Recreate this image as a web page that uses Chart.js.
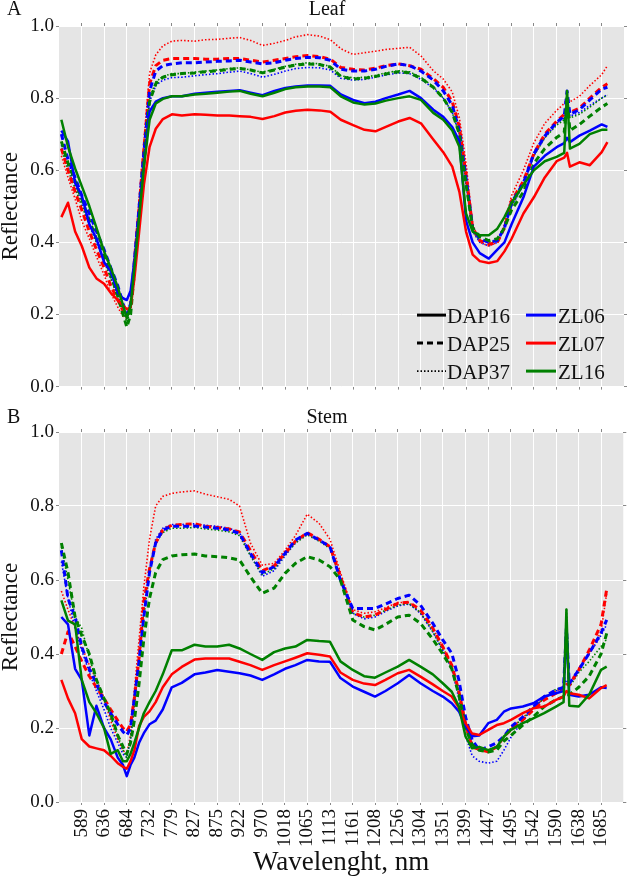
<!DOCTYPE html>
<html>
<head>
<meta charset="utf-8">
<script src="https://cdn.jsdelivr.net/npm/chart.js@4.4.1/dist/chart.umd.min.js"></script>
<style>
html,body{margin:0;padding:0;background:#ffffff;}
#wrap{position:relative;width:628px;height:877px;overflow:hidden;}
.panel{position:absolute;left:0;width:628px;}
</style>
</head>
<body>
<div id="wrap">
  <div class="panel" style="top:0;height:400px"><canvas id="leaf" width="628" height="400"></canvas></div>
  <div class="panel" style="top:400px;height:477px"><canvas id="stem" width="628" height="477"></canvas></div>
</div>
<script>
// ---------------- DATA ----------------
const wavelengths = [546,560,575,589,605,620,636,650,665,676,684,692,700,710,720,732,745,760,779,800,827,850,875,900,922,945,970,995,1018,1040,1065,1090,1113,1135,1161,1185,1208,1230,1256,1280,1304,1330,1351,1370,1385,1399,1413,1428,1447,1465,1480,1495,1520,1542,1565,1590,1606,1612,1618,1638,1660,1685,1697];
const xTickLabels = [589,636,684,732,779,827,875,922,970,1018,1065,1113,1161,1208,1256,1304,1351,1399,1447,1495,1542,1590,1638,1685];
const yTickLabels = [0.0,0.2,0.4,0.6,0.8,1.0];
const genotypes = ['ZL06','ZL07','ZL16'];
const stages = ['DAP16','DAP25','DAP37'];

// Leaf
const leafZL06_DAP16 = [0.71,0.68,0.565,0.53,0.45,0.41,0.345,0.32,0.26,0.245, 0.24,0.266,0.348,0.474,0.619,0.763,0.79,0.80,0.805,0.805, 0.812,0.815,0.818,0.82,0.822,0.815,0.808,0.82,0.828,0.832, 0.835,0.835,0.834,0.81,0.795,0.786,0.79,0.80,0.81,0.82, 0.80,0.768,0.748,0.72,0.68,0.46,0.40,0.37,0.355,0.38, 0.40,0.45,0.525,0.61,0.64,0.664,0.675,0.69,0.678,0.696, 0.71,0.727,0.72];
const leafZL07_DAP16 = [0.47,0.51,0.43,0.39,0.33,0.30,0.285,0.26,0.24,0.225, 0.215,0.22,0.30,0.43,0.56,0.665,0.715,0.742,0.755,0.752, 0.755,0.754,0.752,0.752,0.75,0.748,0.742,0.75,0.76,0.765, 0.768,0.766,0.762,0.74,0.725,0.712,0.708,0.72,0.735,0.745, 0.73,0.685,0.65,0.61,0.54,0.43,0.366,0.348,0.343,0.348, 0.375,0.41,0.48,0.525,0.58,0.625,0.635,0.648,0.61,0.622, 0.614,0.65,0.678];
const leafZL16_DAP16 = [0.74,0.665,0.605,0.556,0.50,0.44,0.375,0.33,0.275,0.225, 0.19,0.225,0.33,0.47,0.61,0.74,0.785,0.798,0.805,0.805, 0.81,0.812,0.815,0.818,0.82,0.812,0.805,0.815,0.825,0.83, 0.832,0.832,0.83,0.805,0.788,0.782,0.785,0.793,0.80,0.805, 0.795,0.759,0.74,0.71,0.665,0.48,0.43,0.42,0.42,0.438, 0.47,0.51,0.56,0.60,0.625,0.637,0.648,0.82,0.66,0.673, 0.70,0.712,0.712];
const leafZL06_DAP25 = [0.70,0.63,0.58,0.53,0.48,0.43,0.38,0.33,0.28,0.23, 0.20,0.23,0.35,0.50,0.65,0.82,0.875,0.89,0.895,0.898, 0.898,0.90,0.902,0.903,0.905,0.90,0.895,0.898,0.905,0.91, 0.913,0.912,0.905,0.88,0.875,0.875,0.88,0.888,0.895,0.89, 0.875,0.85,0.82,0.78,0.71,0.58,0.44,0.41,0.40,0.405, 0.44,0.51,0.565,0.646,0.695,0.733,0.75,0.82,0.755,0.768, 0.795,0.825,0.83];
const leafZL07_DAP25 = [0.66,0.60,0.54,0.49,0.43,0.38,0.33,0.28,0.24,0.21, 0.20,0.22,0.35,0.50,0.66,0.84,0.89,0.905,0.91,0.91, 0.91,0.908,0.908,0.91,0.91,0.905,0.90,0.905,0.91,0.915, 0.918,0.915,0.908,0.885,0.88,0.878,0.883,0.89,0.895,0.89, 0.88,0.854,0.83,0.79,0.72,0.59,0.44,0.405,0.395,0.40, 0.44,0.515,0.57,0.646,0.70,0.736,0.755,0.77,0.76,0.772, 0.80,0.83,0.84];
const leafZL16_DAP25 = [0.68,0.62,0.57,0.52,0.46,0.41,0.36,0.31,0.25,0.20, 0.165,0.20,0.32,0.47,0.62,0.79,0.84,0.858,0.865,0.868, 0.87,0.873,0.876,0.88,0.882,0.878,0.87,0.878,0.886,0.892, 0.895,0.893,0.886,0.86,0.853,0.855,0.86,0.867,0.873,0.87, 0.855,0.83,0.80,0.76,0.70,0.56,0.44,0.415,0.405,0.41, 0.44,0.49,0.54,0.619,0.66,0.691,0.705,0.80,0.71,0.727, 0.75,0.775,0.785];
const leafZL06_DAP37 = [0.67,0.61,0.56,0.51,0.45,0.40,0.35,0.30,0.25,0.21, 0.19,0.22,0.34,0.49,0.63,0.79,0.835,0.85,0.857,0.858, 0.862,0.865,0.868,0.872,0.875,0.868,0.858,0.866,0.875,0.882, 0.885,0.884,0.878,0.855,0.85,0.852,0.858,0.864,0.87,0.868, 0.852,0.828,0.80,0.76,0.70,0.56,0.43,0.40,0.39,0.40, 0.44,0.50,0.56,0.64,0.69,0.73,0.745,0.80,0.75,0.76, 0.78,0.80,0.81];
const leafZL07_DAP37 = [0.64,0.58,0.52,0.46,0.41,0.36,0.31,0.26,0.22,0.195, 0.19,0.22,0.36,0.52,0.68,0.87,0.92,0.945,0.958,0.96, 0.958,0.962,0.963,0.966,0.968,0.96,0.946,0.952,0.96,0.97, 0.976,0.972,0.962,0.937,0.921,0.926,0.93,0.935,0.938,0.941, 0.917,0.876,0.853,0.817,0.745,0.62,0.45,0.40,0.39,0.40, 0.45,0.53,0.60,0.676,0.73,0.766,0.785,0.80,0.79,0.805, 0.835,0.865,0.89];
const leafZL16_DAP37 = [0.66,0.60,0.55,0.50,0.45,0.40,0.35,0.30,0.25,0.21, 0.18,0.21,0.33,0.48,0.63,0.80,0.845,0.86,0.868,0.868, 0.872,0.875,0.878,0.882,0.884,0.878,0.872,0.88,0.888,0.894, 0.898,0.895,0.888,0.862,0.856,0.858,0.863,0.87,0.876,0.873, 0.858,0.832,0.80,0.76,0.70,0.56,0.43,0.405,0.40,0.405, 0.44,0.50,0.56,0.64,0.69,0.725,0.74,0.79,0.745,0.755, 0.775,0.80,0.808];

// Stem
const stemZL06_DAP16 = [0.50,0.48,0.36,0.33,0.18,0.26,0.20,0.17,0.12,0.10, 0.07,0.10,0.12,0.16,0.186,0.21,0.22,0.25,0.31,0.322, 0.345,0.35,0.357,0.352,0.348,0.342,0.33,0.345,0.36,0.37, 0.384,0.38,0.379,0.335,0.312,0.298,0.285,0.30,0.321,0.343, 0.321,0.30,0.285,0.267,0.245,0.205,0.178,0.18,0.213,0.222, 0.244,0.253,0.258,0.267,0.285,0.294,0.30,0.475,0.29,0.285, 0.29,0.31,0.308];
const stemZL07_DAP16 = [0.33,0.28,0.24,0.17,0.15,0.145,0.14,0.125,0.105,0.095, 0.09,0.11,0.14,0.205,0.23,0.245,0.27,0.31,0.345,0.365, 0.385,0.388,0.388,0.388,0.379,0.37,0.357,0.37,0.38,0.39, 0.402,0.398,0.393,0.35,0.33,0.32,0.316,0.33,0.348,0.357, 0.339,0.318,0.30,0.285,0.255,0.213,0.185,0.181,0.195,0.208, 0.213,0.222,0.24,0.253,0.258,0.276,0.285,0.30,0.294,0.29, 0.28,0.308,0.316];
const stemZL16_DAP16 = [0.545,0.49,0.48,0.33,0.27,0.24,0.20,0.13,0.14,0.11, 0.11,0.13,0.16,0.20,0.24,0.27,0.30,0.345,0.41,0.41, 0.425,0.42,0.42,0.425,0.415,0.40,0.384,0.405,0.415,0.42, 0.438,0.435,0.433,0.38,0.357,0.34,0.336,0.35,0.366,0.384, 0.366,0.345,0.321,0.298,0.258,0.177,0.145,0.149,0.14,0.149, 0.177,0.195,0.213,0.226,0.24,0.258,0.27,0.52,0.26,0.258, 0.29,0.357,0.366];
const stemZL06_DAP25 = [0.68,0.55,0.50,0.42,0.36,0.32,0.27,0.24,0.21,0.19, 0.18,0.20,0.28,0.38,0.50,0.62,0.70,0.735,0.745,0.745, 0.746,0.743,0.74,0.735,0.726,0.672,0.62,0.636,0.672,0.708, 0.726,0.708,0.69,0.60,0.523,0.523,0.523,0.535,0.55,0.559, 0.532,0.483,0.438,0.402,0.33,0.23,0.168,0.14,0.149,0.16, 0.177,0.203,0.23,0.258,0.285,0.303,0.31,0.47,0.32,0.357, 0.402,0.456,0.492];
const stemZL07_DAP25 = [0.40,0.46,0.42,0.38,0.34,0.31,0.28,0.25,0.22,0.20, 0.19,0.21,0.28,0.39,0.54,0.63,0.70,0.735,0.748,0.75, 0.752,0.745,0.742,0.738,0.73,0.68,0.625,0.638,0.672,0.705, 0.728,0.71,0.69,0.61,0.512,0.50,0.505,0.52,0.537,0.54, 0.519,0.47,0.42,0.37,0.30,0.21,0.149,0.142,0.136,0.149, 0.177,0.195,0.222,0.249,0.276,0.294,0.31,0.32,0.315,0.357, 0.41,0.48,0.575];
const stemZL16_DAP25 = [0.70,0.62,0.50,0.45,0.40,0.33,0.28,0.24,0.18,0.15, 0.13,0.16,0.22,0.32,0.44,0.55,0.62,0.655,0.665,0.668, 0.67,0.665,0.663,0.66,0.654,0.609,0.564,0.578,0.618,0.645, 0.663,0.654,0.636,0.60,0.492,0.474,0.465,0.48,0.50,0.505, 0.483,0.44,0.40,0.36,0.29,0.20,0.155,0.14,0.135,0.14, 0.165,0.18,0.208,0.23,0.258,0.276,0.285,0.29,0.29,0.31, 0.34,0.40,0.456];
const stemZL06_DAP37 = [0.65,0.55,0.47,0.41,0.35,0.30,0.25,0.20,0.16,0.13, 0.12,0.17,0.27,0.39,0.51,0.63,0.71,0.74,0.75,0.75, 0.752,0.748,0.745,0.74,0.728,0.668,0.61,0.625,0.665,0.70, 0.725,0.708,0.69,0.60,0.51,0.495,0.50,0.515,0.53,0.535, 0.51,0.46,0.41,0.36,0.28,0.18,0.125,0.11,0.105,0.11, 0.14,0.175,0.22,0.255,0.28,0.30,0.31,0.33,0.32,0.36, 0.40,0.45,0.48];
const stemZL07_DAP37 = [0.57,0.52,0.47,0.42,0.37,0.33,0.28,0.22,0.17,0.14, 0.13,0.18,0.30,0.44,0.58,0.71,0.80,0.826,0.834,0.838, 0.841,0.832,0.825,0.818,0.80,0.70,0.64,0.645,0.68,0.72, 0.778,0.753,0.71,0.62,0.52,0.51,0.514,0.525,0.539,0.54, 0.51,0.47,0.42,0.37,0.30,0.22,0.16,0.145,0.14,0.15, 0.175,0.20,0.228,0.255,0.28,0.30,0.31,0.32,0.32,0.36, 0.40,0.46,0.565];
const stemZL16_DAP37 = [0.69,0.60,0.50,0.47,0.39,0.33,0.28,0.23,0.18,0.14, 0.12,0.17,0.26,0.38,0.50,0.62,0.70,0.728,0.74,0.74, 0.742,0.738,0.735,0.73,0.72,0.665,0.615,0.63,0.668,0.70, 0.722,0.705,0.685,0.60,0.51,0.50,0.505,0.518,0.532,0.536, 0.512,0.46,0.41,0.36,0.29,0.20,0.15,0.14,0.14,0.15, 0.175,0.20,0.225,0.255,0.28,0.305,0.31,0.52,0.31,0.35, 0.38,0.42,0.44];

// ---------------- STYLE ----------------
const genoColor = {ZL06:'#0000ff', ZL07:'#ff0000', ZL16:'#008000'};
const stageStyle = {
  DAP16:{width:2.5, dash:[]},
  DAP25:{width:3, dash:[6,4]},
  DAP37:{width:1.6, dash:[1.5,2]}
};
const SERIF = '"Liberation Serif", "Times New Roman", serif';

const leafSeries = {
  ZL06:{DAP16:leafZL06_DAP16, DAP25:leafZL06_DAP25, DAP37:leafZL06_DAP37},
  ZL07:{DAP16:leafZL07_DAP16, DAP25:leafZL07_DAP25, DAP37:leafZL07_DAP37},
  ZL16:{DAP16:leafZL16_DAP16, DAP25:leafZL16_DAP25, DAP37:leafZL16_DAP37}
};
const stemSeries = {
  ZL06:{DAP16:stemZL06_DAP16, DAP25:stemZL06_DAP25, DAP37:stemZL06_DAP37},
  ZL07:{DAP16:stemZL07_DAP16, DAP25:stemZL07_DAP25, DAP37:stemZL07_DAP37},
  ZL16:{DAP16:stemZL16_DAP16, DAP25:stemZL16_DAP25, DAP37:stemZL16_DAP37}
};

// dataset 0 is drawn on top in Chart.js
const drawOrder = [
  ['ZL16','DAP16'],['ZL07','DAP16'],['ZL06','DAP16'],
  ['ZL16','DAP25'],['ZL06','DAP25'],['ZL07','DAP25'],
  ['ZL16','DAP37'],['ZL06','DAP37'],['ZL07','DAP37']
];

function buildDatasets(series){
  return drawOrder.map(([g,s]) => ({
    label: g + ' ' + s,
    data: wavelengths.map((w,i) => ({x:w, y:series[g][s][i]})),
    borderColor: genoColor[g],
    backgroundColor: genoColor[g],
    borderWidth: stageStyle[s].width,
    borderDash: stageStyle[s].dash,
    pointRadius: 0,
    tension: 0,
    fill: false,
    borderJoinStyle: 'round'
  }));
}

const bgPlugin = {
  id:'bgPlot',
  beforeDraw(chart){
    const {ctx, chartArea:{left,top,right,bottom}} = chart;
    ctx.save();
    ctx.fillStyle = '#e5e5e5';
    ctx.fillRect(left, top, right-left, bottom-top);
    ctx.restore();
  }
};

function headerPlugin(letter, title, baseline){
  return {
    id:'header',
    afterDraw(chart){
      const ctx = chart.ctx;
      ctx.save();
      ctx.fillStyle = '#111';
      ctx.font = '20px ' + SERIF;
      ctx.textBaseline = 'alphabetic';
      ctx.textAlign = 'left';
      ctx.fillText(letter, 7, baseline);
      ctx.textAlign = 'center';
      ctx.fillText(title, 327, baseline);
      ctx.restore();
    }
  };
}

const legendPlugin = {
  id:'comboLegend',
  afterDatasetsDraw(chart){
    const {ctx, chartArea:{right,bottom}} = chart;
    const rows = [bottom-71.5, bottom-43.5, bottom-15.5];
    ctx.save();
    ctx.font = '21px ' + SERIF;
    ctx.textBaseline = 'alphabetic';
    ctx.textAlign = 'left';
    stages.forEach((s,i) => {
      const y = rows[i];
      ctx.strokeStyle = '#000';
      ctx.lineWidth = stageStyle[s].width + (s==='DAP16'?0.5:0);
      ctx.setLineDash(stageStyle[s].dash);
      ctx.beginPath(); ctx.moveTo(right-207, y); ctx.lineTo(right-178, y); ctx.stroke();
      ctx.setLineDash([]);
      ctx.fillStyle = '#111';
      ctx.fillText(s, right-177, y+7.5);
    });
    genotypes.forEach((g,i) => {
      const y = rows[i];
      ctx.strokeStyle = genoColor[g];
      ctx.lineWidth = 3;
      ctx.setLineDash([]);
      ctx.beginPath(); ctx.moveTo(right-98, y); ctx.lineTo(right-68, y); ctx.stroke();
      ctx.fillStyle = '#111';
      ctx.fillText(g, right-66, y+7.5);
    });
    ctx.restore();
  }
};

function xTicksSetter(scale){ scale.ticks = xTickLabels.map(v => ({value:v})); }
function yTicksSetter(scale){ scale.ticks = yTickLabels.map(v => ({value:v})); }

function makeScales(showXLabels, bottomHeight){
  const tickFont = {family:SERIF, size:19};
  return {
    x: {
      type:'linear', position:'bottom', min:541, max:1732,
      afterBuildTicks: xTicksSetter,
      afterFit: s => { s.height = bottomHeight; },
      grid:{color:'#ffffff', lineWidth:1, drawTicks:true, tickLength:3, tickColor:'#888888', tickWidth:1},
      border:{display:false},
      ticks:{display:showXLabels, autoSkip:false, minRotation:90, maxRotation:90, padding:4, color:'#111', font:tickFont, callback: v => String(v)},
      title:{display:showXLabels, text:'Wavelenght, nm', color:'#111', font:{family:SERIF, size:27, lineHeight:1}, padding:{top:0, bottom:1}}
    },
    x2: {
      type:'linear', position:'top', min:541, max:1732,
      afterBuildTicks: xTicksSetter,
      afterFit: s => { s.height = 4; },
      grid:{drawOnChartArea:false, drawTicks:true, tickLength:3, tickColor:'#888888', tickWidth:1},
      border:{display:false},
      ticks:{display:false}
    },
    y: {
      type:'linear', position:'left', min:0, max:1,
      afterBuildTicks: yTicksSetter,
      afterFit: s => { s.width = 59; },
      grid:{color:'#ffffff', lineWidth:1, drawTicks:true, tickLength:3, tickColor:'#888888', tickWidth:1},
      border:{display:false},
      ticks:{padding:2, color:'#111', font:tickFont, callback: v => Number(v).toFixed(1)},
      title:{display:true, text:'Reflectance', color:'#111', font:{family:SERIF, size:23, lineHeight:0.92}, padding:0}
    },
    y2: {
      type:'linear', position:'right', min:0, max:1,
      afterBuildTicks: yTicksSetter,
      afterFit: s => { s.width = 4; },
      grid:{drawOnChartArea:false, drawTicks:true, tickLength:3, tickColor:'#888888', tickWidth:1},
      border:{display:false},
      ticks:{display:false}
    }
  };
}

function makeChart(id, series, letter, title, showXLabels, bottomHeight, topPad, headerBaseline, extraPlugins){
  return new Chart(document.getElementById(id), {
    type:'line',
    data:{datasets: buildDatasets(series)},
    options:{
      responsive:false,
      animation:false,
      devicePixelRatio:1,
      parsing:true,
      normalized:true,
      layout:{padding:{top:topPad, left:0, right:0, bottom:0}},
      plugins:{legend:{display:false}, tooltip:{enabled:false}, title:{display:false}},
      scales: makeScales(showXLabels, bottomHeight)
    },
    plugins:[bgPlugin, headerPlugin(letter, title, headerBaseline)].concat(extraPlugins)
  });
}

makeChart('leaf', leafSeries, 'A', 'Leaf', false, 5, 22, 15, [legendPlugin]);
makeChart('stem', stemSeries, 'B', 'Stem', true, 75, 28, 23, []);
</script>
</body>
</html>
